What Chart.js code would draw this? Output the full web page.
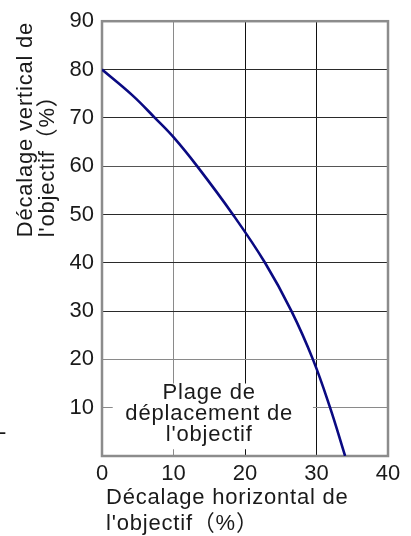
<!DOCTYPE html>
<html><head><meta charset="utf-8">
<script src="https://cdn.jsdelivr.net/npm/chart.js@4/dist/chart.umd.min.js"></script>
<style>html,body{margin:0;padding:0;background:#fff}#wrap{width:411px;height:536px;position:relative}</style>
</head><body><div id="wrap"><canvas id="c" width="411" height="536"></canvas></div>
<script>
// Data
const horizontalShift = [0, 4.3, 7.4, 10, 13.3, 18.3, 22.8, 26.5, 29.5, 31.9, 34];
const verticalShift   = [80, 74.6, 70, 66, 60, 50, 40, 30, 20, 10, 0];
const xTickValues = [0, 10, 20, 30, 40];
const yTickValues = [0, 10, 20, 30, 40, 50, 60, 70, 80, 90];
const xTitleLines = ["Décalage horizontal de", "l'objectif（%）"];
const yTitleLines = ["Décalage vertical de", "l'objectif（%）"];
const areaLabelLines = ["Plage de", "déplacement de", "l'objectif"];

const FONT = "'Liberation Sans', Arial, 'Noto Sans CJK JP', sans-serif";
const TEXT = '#1a1a1a';

const points = horizontalShift.map((x, i) => ({x: x, y: verticalShift[i]}));

const xGridColor = v => (v === 0 || v === 40) ? 'rgba(0,0,0,0)' : (v === 10 ? '#8a8a8a' : '#111');
const yGridColor = v => (v === 0 || v === 90) ? 'rgba(0,0,0,0)' : ((v === 10 || v === 20) ? '#8a8a8a' : (v === 60 ? '#555' : '#2a2a2a'));

const frame = {
  id: 'frame',
  beforeDatasetsDraw(chart) {
    const {ctx, chartArea: a} = chart;
    ctx.save();
    ctx.strokeStyle = '#8c8c8c';
    ctx.lineWidth = 2.5;
    ctx.strokeRect(a.left, a.top, a.right - a.left, a.bottom - a.top);
    ctx.restore();
  }
};

const texts = {
  id: 'texts',
  afterDraw(chart) {
    const {ctx, chartArea: a} = chart;
    const xs = chart.scales.x, ys = chart.scales.y;
    ctx.save();
    ctx.fillStyle = TEXT;
    ctx.font = "22px " + FONT;
    try { ctx.letterSpacing = '0.8px'; } catch (e) {}
    // x title
    ctx.textAlign = 'left';
    ctx.textBaseline = 'alphabetic';
    ctx.fillText(xTitleLines[0], a.left + 4, a.bottom + 48);
    ctx.fillText(xTitleLines[1], a.left + 4, a.bottom + 74);
    // y title (rotated)
    ctx.save();
    ctx.translate(0, a.top + 216);
    ctx.rotate(-Math.PI / 2);
    ctx.fillText(yTitleLines[0], 0, 32);
    ctx.fillText(yTitleLines[1], 0, 54);
    ctx.restore();
    // area label with white box
    const bx0 = xs.getPixelForValue(1.5), bx1 = xs.getPixelForValue(29.5);
    const by0 = ys.getPixelForValue(15), by1 = ys.getPixelForValue(1.4);
    ctx.fillStyle = '#fff';
    ctx.fillRect(bx0, by0, bx1 - bx0, by1 - by0);
    ctx.fillStyle = TEXT;
    ctx.textAlign = 'center';
    const cx = xs.getPixelForValue(15);
    const base = ys.getPixelForValue(11.8);
    areaLabelLines.forEach((t, i) => ctx.fillText(t, cx, base + i * 21));
    // small dash at the left edge seen in the reference
    ctx.textAlign = 'left';
    ctx.fillText('-', -1, 439);
    ctx.restore();
  }
};

new Chart(document.getElementById('c'), {
  type: 'scatter',
  data: {
    datasets: [{
      data: points,
      showLine: true,
      borderColor: '#0a0a82',
      borderWidth: 2.6,
      pointRadius: 0,
      tension: 0.4,
      fill: false
    }]
  },
  options: {
    responsive: false,
    devicePixelRatio: 1,
    animation: false,
    layout: {padding: {top: 15, right: 23, left: 0, bottom: 0}},
    plugins: {legend: {display: false}, tooltip: {enabled: false}},
    scales: {
      x: {
        type: 'linear', min: 0, max: 40,
        afterBuildTicks: s => { s.ticks = xTickValues.map(v => ({value: v})); },
        afterFit: s => { s.height = 80; },
        ticks: {font: {size: 22, family: FONT}, color: TEXT, padding: 5},
        grid: {color: c => xGridColor(c.tick.value), lineWidth: 1, drawTicks: false},
        border: {display: false}
      },
      y: {
        type: 'linear', min: 0, max: 90,
        afterBuildTicks: s => { s.ticks = yTickValues.map(v => ({value: v})); },
        afterFit: s => { s.width = 102; },
        ticks: {font: {size: 22, family: FONT}, color: TEXT, padding: 8,
                callback: v => v === 0 ? '' : String(v)},
        grid: {color: c => yGridColor(c.tick.value), lineWidth: 1, drawTicks: false},
        border: {display: false}
      }
    }
  },
  plugins: [frame, texts]
});
</script></body></html>
